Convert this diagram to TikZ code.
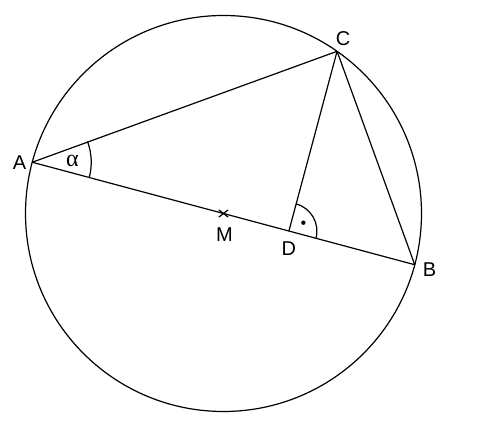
\documentclass[tikz,border=0pt]{standalone}
\usepackage{fontspec}
\setmainfont{Liberation Sans}
\newfontfamily\greekfont{Liberation Serif}
\usetikzlibrary{calc,angles,quotes}
\tikzstyle{line}=[line width=0.6pt,line join=round,line cap=round]
\tikzstyle{lbl}=[inner sep=0pt,font=\normalsize]

\begin{document}
\begin{tikzpicture}[x=0.5pt,y=0.5pt]
            \useasboundingbox (-223.5,-208.5) rectangle (268.5,213.5);
            \def\r{198}
            \coordinate (M) at (0,0);
            \coordinate (A) at (165:\r);
            \coordinate (B) at (-15:\r);
            \coordinate (C) at (55:\r);
            \coordinate (D) at ($(A)!(C)!(B)$); % foot of the altitude
            \draw[line] (M) circle (\r);
            \draw[line] (A) -- (B) -- (C) -- cycle;
            \draw[line] (C) -- (D);
            \draw pic[line,draw,angle radius=29.5pt,"{\greekfont\large α}",angle eccentricity=0.68] {angle=B--A--C};
            \draw pic[line,draw,angle radius=14pt] {angle=B--D--C};
            \fill ($(D)+(30:16.7)$) circle (1.1pt);
            \draw[line] ($(M)+(-4.5,-3.5)$) -- ($(M)+(4.5,3.5)$);
            \draw[line] ($(M)+(-4.5,3.5)$) -- ($(M)+(4.5,-3.5)$);
            \node[lbl] (labA) at ($(A)+(-12.7,0)$) {A};
            \node[lbl] (labB) at ($(B)+(14.7,-4.8)$) {B};
            \node[lbl] (labC) at ($(C)+(6,12.8)$) {C};
            \node[lbl] (labD) at ($(D)+(0,-18)$) {D};
            \node[lbl] (labM) at ($(M)+(1,-21.5)$) {M};
        \end{tikzpicture}
\end{document}
